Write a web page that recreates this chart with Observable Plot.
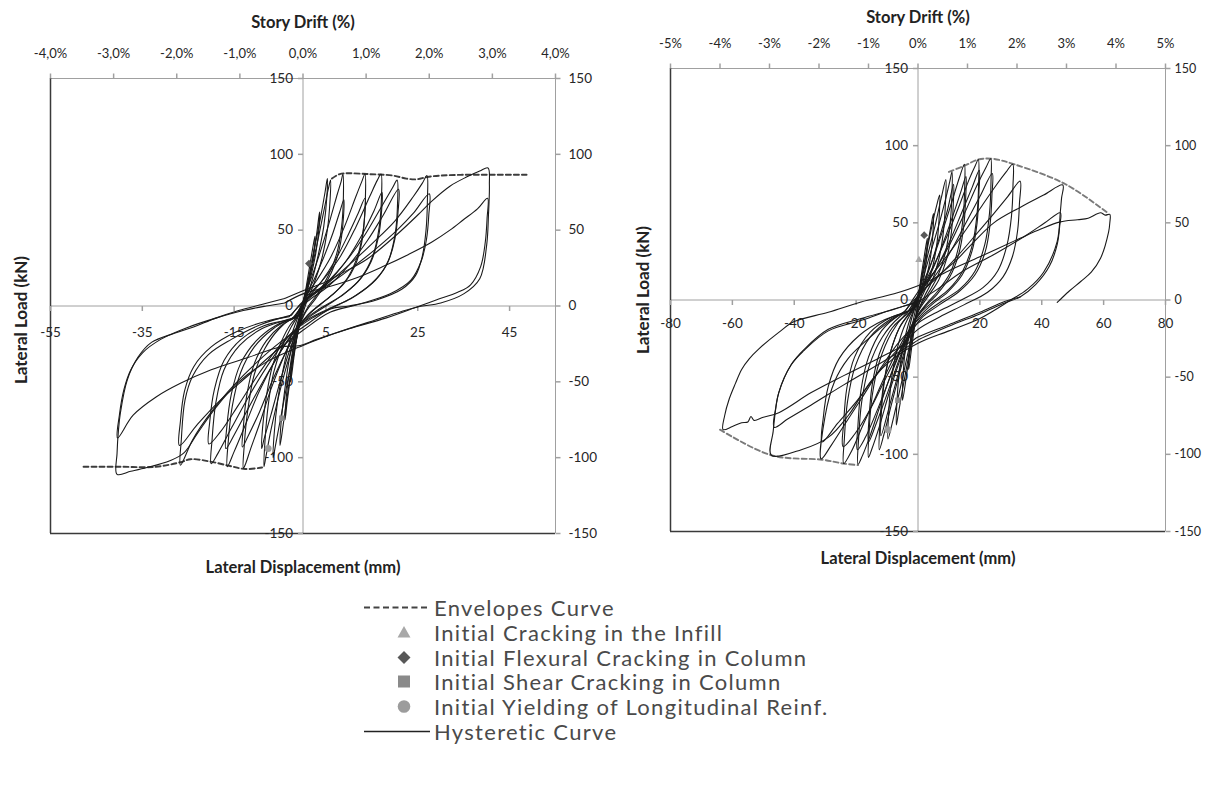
<!DOCTYPE html>
<html><head><meta charset="utf-8">
<script src="https://cdn.jsdelivr.net/npm/d3@7"></script>
<script src="https://cdn.jsdelivr.net/npm/@observablehq/plot@0.6"></script>
<style>
html,body{margin:0;padding:0;background:#fff;}
#wrap{position:relative;width:1205px;height:789px;overflow:hidden;background:#fff;font-family:Lato,"Open Sans",sans-serif;}
.panel{position:absolute;top:0;}
.lrow{position:absolute;left:362px;height:25px;display:flex;align-items:center;font-size:22px;letter-spacing:1.3px;color:#4a4a4a;white-space:nowrap;}
.lrow svg{flex:none;}
</style></head><body>
<div id="wrap"><div id="left" class="panel" style="left:0px"></div><div id="right" class="panel" style="left:605px"></div><div id="legend"></div></div>
<script>
const FONT = "Lato, 'Open Sans', sans-serif";
const yTicks = [-150,-100,-50,0,50,100,150];

// ---------- LEFT SPECIMEN ----------
const leftDispTicks = [-55,-35,-15,5,25,45];
const leftDriftTicks = [-4,-3,-2,-1,0,1,2,3,4];
const leftDriftLabels = ["-4,0%","-3,0%","-2,0%","-1,0%","0,0%","1,0%","2,0%","3,0%","4,0%"];
const leftMmPerPct = 13.75;
const leftEnvPos = [[6.3,84],[8,87],[10,87.5],[14,87],[19.6,86],[22.5,84],[24.7,83.5],[27,85],[30,86],[35,86.5],[41,86.5],[48.7,86.5]];
const leftEnvNeg = [[-47.8,-106],[-40,-106],[-32,-106],[-26.7,-103],[-24.5,-101],[-20.3,-102.5],[-15.9,-105.5],[-12.6,-107.5],[-8.9,-106.5]];
const leftCycles = [
 [[0,0],[1,18],[2,36],[2.6,46],[2.5,38],[1.8,24],[0.8,9],[0,0],[-0.8,-12],[-1.8,-30],[-2.7,-50],[-2.6,-40],[-1.9,-25],[-0.9,-10],[0,0]],
 [[0,0],[1,14],[2,30],[3,48],[3.6,62],[3.5,52],[2.8,35],[1.6,18],[0.5,5],[-0.5,-8],[-1.5,-22],[-2.5,-42],[-3.4,-62],[-3.9,-75],[-3.7,-62],[-3,-44],[-2,-25],[-1,-10],[0,0]],
 [[0,2],[1.2,18],[2.5,38],[3.8,58],[4.8,75],[5.3,84],[5.2,72],[4.5,52],[3.2,32],[1.8,15],[0.5,3],[-0.8,-12],[-2,-32],[-3.2,-55],[-4.3,-78],[-5,-92],[-4.8,-78],[-4,-56],[-3,-35],[-1.8,-18],[-0.5,-4],[0,2]],
 [[0,3],[1.5,20],[3,40],[4.5,62],[5.5,77],[6,83],[5.9,70],[5.3,50],[4,30],[2.3,14],[0.8,3],[-0.5,-10],[-2,-30],[-3.5,-52],[-5,-76],[-6,-92],[-6.5,-100],[-6.3,-85],[-5.5,-62],[-4.2,-40],[-2.8,-22],[-1.2,-8],[0,3]],
 [[-0.5,-4],[0.5,8],[2,20],[4,38],[6,58],[7.5,74],[8.3,82],[8.7,87],[8.8,72],[8.4,52],[7.3,34],[5.5,20],[3.2,8],[1.2,0],[-0.5,-10],[-2,-24],[-3.8,-42],[-5.5,-62],[-7,-82],[-8,-98],[-8.5,-106],[-8.3,-90],[-7.6,-66],[-6.4,-44],[-4.6,-27],[-2.6,-14],[-0.5,-4]],
 [[-0.8,-6],[0.5,6],[2.5,18],[4.5,32],[6.5,48],[8,62],[8.9,70],[8.8,58],[8.2,42],[7,28],[5,15],[2.8,5],[0.8,-3],[-1,-14],[-3,-30],[-5,-50],[-7,-72],[-8.5,-88],[-9,-94],[-8.8,-80],[-8,-60],[-6.7,-40],[-4.8,-24],[-2.7,-12],[-0.8,-6]],
 [[-1,-6],[0.5,6],[3,17],[6,32],[9,52],[11.5,72],[12.8,82],[13.5,87],[13.6,72],[13.2,52],[12,34],[9.8,19],[7,9],[3.8,1],[1,-6],[-1.5,-16],[-4,-32],[-7,-55],[-9.5,-78],[-11.5,-95],[-12.5,-104],[-13,-107],[-12.8,-92],[-12,-68],[-10.6,-45],[-8.3,-28],[-5.2,-15],[-2.3,-8],[-1,-6]],
 [[-1.2,-7],[1,5],[4,16],[7,30],[10,48],[12,61],[13.5,71],[13.4,58],[12.8,42],[11.4,27],[9,15],[5.8,6],[2.5,-2],[0,-10],[-3,-26],[-6.5,-48],[-9.5,-70],[-12,-86],[-13.2,-93],[-13,-80],[-12.2,-58],[-10.6,-38],[-8,-23],[-4.8,-13],[-1.2,-7]],
 [[-1.5,-7],[0.5,5],[4,16],[8,32],[11.5,52],[14.5,72],[16.2,83],[17,87],[17.1,72],[16.6,52],[15.2,33],[12.5,18],[9,8],[5,0],[1.5,-7],[-2,-17],[-5.5,-33],[-9.5,-56],[-12.5,-78],[-15,-96],[-16.5,-106],[-16.3,-90],[-15.4,-66],[-13.6,-44],[-10.6,-27],[-6.5,-15],[-3,-9],[-1.5,-7]],
 [[-1.8,-8],[1,4],[5,14],[9,28],[12.5,45],[15.5,63],[17.2,75],[17.1,62],[16.4,45],[14.8,29],[12,16],[8,6],[3.5,-2],[0,-10],[-4,-26],[-8,-46],[-12,-68],[-15,-85],[-16.8,-94],[-16.6,-80],[-15.6,-58],[-13.6,-38],[-10.2,-23],[-6,-13],[-1.8,-8]],
 [[-2,-8],[1,5],[5,15],[9.5,30],[13.5,47],[17,65],[19.5,78],[20.5,83],[20.6,68],[20.1,48],[18.6,30],[15.8,17],[11.5,7],[6.5,-1],[2,-8],[-2.5,-18],[-7,-36],[-11.5,-58],[-15.5,-80],[-18.5,-97],[-20,-104],[-19.8,-88],[-19,-64],[-17.2,-42],[-13.8,-26],[-9,-15],[-4.5,-10],[-2,-8]],
 [[-2.5,-9],[1,3],[5.5,13],[10,27],[14,43],[17.5,60],[20.8,77],[20.7,62],[20,44],[18.2,27],[15,15],[10.5,5],[5.5,-2],[0.5,-10],[-4.5,-24],[-9.5,-44],[-14,-65],[-18,-83],[-20.5,-91],[-20.3,-76],[-19.3,-55],[-17.2,-36],[-13.5,-22],[-8.5,-13],[-2.5,-9]],
 [[-2.5,-6],[0,3],[5,14],[10,27],[15,41],[20,56],[24,72],[26,81],[27,86],[27.1,70],[26.8,50],[26,33],[24.5,20],[21.5,11],[16,4],[10,0],[6,-2],[0,-14],[-5,-24],[-10,-37],[-15,-52],[-20,-70],[-24,-88],[-26.7,-105],[-26.5,-88],[-25.7,-62],[-24,-46],[-20.6,-32],[-15.6,-22],[-9,-12],[-2.5,-6]],
 [[-3,-7],[1,5],[6,15],[11,26],[16,38],[20.5,50],[24,61],[27.5,74],[27.4,60],[26.9,44],[25.8,30],[23.5,17],[19,8],[12,1],[6,-4],[0,-16],[-6,-30],[-12,-46],[-18,-62],[-23,-78],[-26.9,-92],[-26.7,-76],[-25.8,-56],[-23.8,-40],[-20,-27],[-14.5,-17],[-8,-10],[-3,-7]],
 [[-4,5],[0,10],[5,16],[8.7,22],[14,31],[20.4,47],[25,60],[28,69],[32,79],[35.6,85],[38.5,89],[40.3,91],[40.6,80],[40.4,60],[40,40],[38.5,18],[35,8],[30,2],[24.5,-1],[15,-10],[7,-18],[0,-26],[-8,-37],[-14,-50],[-19,-67],[-23,-84],[-26,-97],[-29,-102],[-34,-106.5],[-37.5,-109],[-40.5,-111],[-40.5,-97],[-40.2,-82],[-39.8,-71],[-38.3,-49],[-36,-34],[-33,-24],[-28,-18],[-24,-14],[-19,-8],[-14,-3],[-9,1],[-4,5]],
 [[-4,2],[0,8],[6,13],[12,19],[17.4,26],[23,34],[28,42],[32,50],[35,57],[38,64],[40.2,71],[40.1,58],[39.7,42],[38.7,26],[36.5,14],[33.7,9],[29,4],[24.5,-1],[18,-8],[10,-15],[3,-22],[-0.6,-26],[-5,-27],[-12,-34],[-20,-42],[-26.7,-51],[-32,-60],[-37,-72],[-40.4,-87],[-40,-72],[-39,-55],[-37.5,-42],[-35,-31],[-31,-22],[-25,-14],[-19,-8],[-13,-3],[-8,0],[-4,2]]
];
const leftMarkers = [["diamond",1.3,28],["square",-4.6,-74],["circle",-7.6,-94]];

// ---------- RIGHT SPECIMEN ----------
const rightDispTicks = [-80,-60,-40,-20,0,20,40,60,80];
const rightDispLabels = [-80,-60,-40,-20,20,40,60,80];
const rightDriftTicks = [-5,-4,-3,-2,-1,0,1,2,3,4,5];
const rightDriftLabels = ["-5%","-4%","-3%","-2%","-1%","0%","1%","2%","3%","4%","5%"];
const rightMmPerPct = 16;
const rightEnvPos = [[10,83],[15,87],[19.5,91],[24,91.5],[31,88],[47.7,75],[61.6,56]];
const rightEnvNeg = [[-64,-84],[-47.4,-100.6],[-31,-103.5],[-24,-106],[-19.4,-107]];
const rightCycles = [
 [[0,0],[1,15],[2,28],[3,40],[2.9,32],[2.2,18],[1,6],[0,-2],[-1,-16],[-2,-30],[-3,-45],[-2.9,-35],[-2.1,-20],[-1,-8],[0,0]],
 [[0,1],[1.5,18],[3,35],[4.2,48],[5,56],[4.9,46],[4.2,30],[2.8,15],[1.2,4],[-0.5,-8],[-2,-26],[-3.5,-46],[-5,-65],[-4.9,-52],[-4.2,-34],[-2.8,-18],[-1.2,-6],[0,1]],
 [[-0.5,-3],[0.8,10],[2.5,28],[4.5,48],[6,61],[7,68],[6.9,56],[6.2,38],[4.8,22],[2.8,9],[0.8,0],[-1,-14],[-3,-36],[-5,-58],[-6.3,-73],[-7,-81],[-6.8,-66],[-6,-46],[-4.5,-27],[-2.5,-12],[-0.5,-3]],
 [[-0.8,-4],[0.8,10],[3,28],[5.5,48],[7.5,66],[9,78],[8.9,64],[8.2,44],[6.8,27],[4.5,12],[2,2],[-0.5,-10],[-3,-32],[-5.5,-55],[-8,-77],[-9.7,-90],[-9.5,-74],[-8.6,-52],[-6.8,-32],[-4,-15],[-0.8,-4]],
 [[-1,-4],[1,10],[3.5,27],[6.5,47],[9,66],[10.3,77],[11,83],[11,70],[10.4,50],[9,32],[6.5,16],[3.5,5],[0.5,-5],[-2.5,-22],[-5.5,-44],[-8.5,-67],[-11,-87],[-12.5,-97],[-12.3,-80],[-11.3,-57],[-9.2,-36],[-6,-18],[-2.5,-8],[-1,-4]],
 [[-1.5,-6],[1,6],[4,22],[7,41],[9.5,58],[11.5,75],[11.4,62],[10.8,44],[9.3,27],[6.7,13],[3.5,3],[0.2,-7],[-3,-24],[-6,-45],[-9,-67],[-12,-88],[-11.8,-72],[-10.8,-52],[-8.8,-33],[-5.5,-16],[-1.5,-6]],
 [[-1.5,-5],[1,8],[4.5,25],[8,45],[11,64],[13.5,80],[15,88],[15.1,74],[14.6,54],[13.2,35],[10.5,18],[6.5,6],[2.5,-3],[-1.5,-14],[-5,-34],[-9,-58],[-12.5,-82],[-15,-97],[-16,-102],[-15.8,-85],[-14.8,-62],[-12.5,-40],[-8.5,-21],[-4,-9],[-1.5,-5]],
 [[-2,-7],[1,5],[5,21],[8.5,39],[11.5,56],[14,71],[15.5,80],[15.4,66],[14.8,48],[13.2,30],[10.3,15],[6.3,4],[2,-5],[-2,-17],[-6,-38],[-10,-61],[-13.5,-80],[-16,-92],[-15.8,-76],[-14.8,-55],[-12.5,-35],[-8.3,-18],[-2,-7]],
 [[-2,-6],[1,7],[5,22],[9.5,42],[13.5,62],[16.5,78],[18.5,87],[19.5,91],[19.6,76],[19.1,56],[17.6,36],[14.5,19],[10,7],[5,-1],[0.5,-9],[-3.5,-22],[-8,-44],[-12,-67],[-15.5,-88],[-18,-101],[-19.4,-106.5],[-19.2,-90],[-18.2,-66],[-15.8,-43],[-11.5,-24],[-6,-11],[-2,-6]],
 [[-2.5,-7],[1,5],[5.5,19],[10,37],[14,56],[17.5,73],[19.8,84],[19.7,70],[19.1,50],[17.5,32],[14.2,16],[9.5,5],[4.5,-3],[0,-12],[-4.5,-28],[-9,-50],[-13.5,-73],[-17,-89],[-19.6,-97],[-19.4,-81],[-18.4,-58],[-16,-37],[-11.8,-20],[-6.2,-10],[-2.5,-7]],
 [[-3,-7],[1,6],[5.5,19],[10.5,37],[15,56],[19,74],[22,86],[23.5,91.5],[23.6,77],[23.1,56],[21.6,36],[18.5,19],[13.5,7],[7.5,-1],[2,-9],[-3,-20],[-8.5,-40],[-13.5,-62],[-18,-82],[-21.5,-98],[-24,-106],[-23.8,-90],[-22.8,-66],[-20.3,-43],[-15.5,-24],[-8.5,-12],[-3,-7]],
 [[-3.5,-8],[1,4],[6,17],[11,33],[15.5,50],[20,67],[24,82],[23.9,68],[23.3,49],[21.7,31],[18.3,16],[13,5],[7,-3],[1,-12],[-5,-30],[-10.5,-51],[-15.5,-71],[-20.5,-87],[-24.2,-95],[-24,-79],[-23,-57],[-20.5,-37],[-15.5,-21],[-8.5,-11],[-3.5,-8]],
 [[-4,-7],[1,8],[6,20],[11,33],[16,47],[21,62],[25.5,75],[28.5,83],[30.6,88],[30.7,74],[30.2,54],[28.7,35],[25.8,19],[21,8],[14,0],[7,-7],[0,-15],[-6,-27],[-12,-44],[-18,-63],[-23.5,-80],[-28,-94],[-31.3,-103],[-30,-75],[-27,-53],[-22.6,-38],[-16,-25],[-10,-15],[-4,-7]],
 [[-5,-9],[1,5],[7,16],[13,29],[19,43],[24.5,56],[29,67],[33,77],[32.8,63],[32.2,45],[30.5,28],[27.5,15],[22.5,5],[15,-3],[7,-11],[0,-19],[-7,-33],[-14,-50],[-20,-66],[-26,-80],[-31,-92],[-30.6,-76],[-29,-56],[-25.5,-38],[-19,-23],[-11,-13],[-5,-9]],
 [[-2,-3],[5,13],[12,25],[18,37.5],[24.5,50],[33,60],[40.6,68],[46.8,74.5],[46.4,66],[46,57],[45,38],[40.6,18],[35.4,7],[30,0],[20,-12],[10,-20],[0,-28],[-8,-38],[-15,-52],[-22.6,-75],[-29,-89],[-37.7,-97],[-47.4,-100.6],[-46.8,-85],[-45,-60],[-41,-42],[-36.8,-32],[-29,-19],[-18.4,-12],[-7.7,-6],[1,0]],
 [[1,0],[7,8],[14,18],[25,30],[35,42],[41,50],[46,56.5],[45.8,48],[45,36],[42.5,22],[38,10],[33,2],[28,-2],[20,-9],[10,-17],[0,-26],[-2.3,-29],[-13,-42],[-24,-55],[-34.5,-68],[-42,-77],[-46.5,-82.5],[-46,-70],[-45,-60],[-41,-42],[-37,-33],[-29,-20],[-18,-13],[-8,-6],[1,-1]],
 [[33,2],[28,-1],[20,-8],[10,-16],[0,-24],[-2.3,-27],[-13,-38],[-24,-49],[-34.5,-60],[-45,-73],[-50,-76],[-53,-78],[-54,-75.5],[-55,-79],[-57,-79.5],[-60,-82],[-63,-84],[-62.5,-75],[-61,-64],[-59,-54],[-57,-45],[-54.5,-38],[-51.6,-32],[-45,-21],[-40,-14],[-29,-8],[-18.4,-1.3],[-7.7,4],[1,10],[10,19],[20,28],[33,40],[39.7,46],[46,50.6],[51.6,52],[55,53],[59,56.5],[60.5,55],[62,55.5],[62,50],[61.6,44],[59,27],[56,18],[52.6,12],[49,6],[45.8,0],[45,-1.5]]
];
const rightMarkers = [["triangle",0.3,26],["diamond",2,42],["square",-6.5,-65],["circle",-9.7,-84]];

// ---------- LEGEND ----------
const legendLabels = ["Envelopes Curve","Initial Cracking in the Infill","Initial Flexural Cracking in Column","Initial Shear Cracking in Column","Initial Yielding of Longitudinal Reinf.","Hysteretic Curve"];
const legendKinds = ["dash","triangle","diamond","square","circle","solid"];

const symFor = {triangle:"triangle2", diamond:"diamond2", square:"square2", circle:"circle"};
const colFor = {triangle:"#a8a8a8", diamond:"#585858", square:"#8a8a8a", circle:"#9c9c9c"};

const tickUp = {draw(c){c.moveTo(0,0);c.lineTo(0,-5);}};
const tickDown = {draw(c){c.moveTo(0,0);c.lineTo(0,5);}};
const tickLeft = {draw(c){c.moveTo(0,0);c.lineTo(-5,0);}};
const tickRight = {draw(c){c.moveTo(0,0);c.lineTo(5,0);}};

function panel(o){
  const rows = o.cycles.flatMap((c,i)=>c.map(([d,f])=>({cycle:i,d,f})));
  const env = [...o.envPos.map(([d,f])=>({s:"p",d,f})), ...o.envNeg.map(([d,f])=>({s:"n",d,f}))];
  const drift = o.driftTicks.map((p,i)=>({x:p*o.mmPerPct, label:o.driftLabels[i]}));
  const marks = o.markers.map(([t,d,f])=>({t,d,f}));
  const [x0,x1] = o.xDomain;
  const txt = {fill:"#262626", fontSize:13.5};
  const grey = "#a0a0a0";
  return Plot.plot({
    width:o.width, height:o.height,
    marginLeft:o.ml, marginRight:o.mr, marginTop:o.mt, marginBottom:o.mb,
    x:{domain:o.xDomain, axis:null}, y:{domain:[-150,150], axis:null},
    style:{fontFamily:FONT, background:"white", overflow:"visible"},
    marks:[
      Plot.ruleY([150],{stroke:grey}),
      Plot.ruleX([x1],{stroke:grey}),
      Plot.ruleX([0],{stroke:grey}),
      Plot.ruleY([0],{stroke:grey}),
      Plot.ruleX([x0],{stroke:"#3a3a3a", strokeWidth:1.5}),
      Plot.ruleY([-150],{stroke:"#3a3a3a", strokeWidth:1.5}),
      Plot.dot(drift,{x:"x", y:150, symbol:tickUp, stroke:grey, fill:"none"}),
      Plot.text(drift,{x:"x", y:150, text:"label", dy:-25, ...txt, fontSize:13}),
      Plot.dot(yTicks,{x:x1, y:d=>d, symbol:tickRight, stroke:grey, fill:"none"}),
      Plot.text(yTicks,{x:x1, y:d=>d, text:d=>String(d), dx:o.rightDx, textAnchor:"start", ...txt, fontSize:o.rightFont}),
      Plot.dot(yTicks,{x:0, y:d=>d, symbol:tickLeft, stroke:grey, fill:"none"}),
      Plot.text(yTicks,{x:0, y:d=>d, text:d=>String(d), dx:-10, textAnchor:"end", ...txt}),
      Plot.dot(o.dispTicks,{x:d=>d, y:0, symbol:tickDown, stroke:grey, fill:"none"}),
      Plot.text(o.dispLabels,{x:d=>d, y:0, text:d=>String(d), dy:o.dispDy, ...txt}),
      Plot.line(env,{x:"d", y:"f", z:"s", stroke:o.envColor, strokeWidth:1.9, strokeDasharray:"5,3", curve:"catmull-rom"}),
      Plot.line(rows,{x:"d", y:"f", z:"cycle", stroke:"#1a1a1a", strokeWidth:1.1, curve:"catmull-rom"}),
      ...Object.keys(symFor).map(k=>Plot.dot(marks.filter(m=>m.t===k),{x:"d", y:"f", symbol:symFor[k], fill:colFor[k], r:3.5})),
      Plot.text(["Story Drift (%)"],{frameAnchor:"top", lineAnchor:"middle", text:d=>d, dy:o.titleDy, fontWeight:"bold", fontSize:16.5, fill:"#222"}),
      Plot.text(["Lateral Displacement (mm)"],{frameAnchor:"bottom", lineAnchor:"middle", text:d=>d, dy:o.xTitleDy, fontWeight:"bold", fontSize:16.5, fill:"#222"}),
      Plot.text(["Lateral Load (kN)"],{frameAnchor:"left", lineAnchor:"middle", textAnchor:"middle", rotate:-90, text:d=>d, dx:o.yTitleDx, dy:o.yTitleDy, fontWeight:"bold", fontSize:17, fill:"#222"})
    ]
  });
}

document.getElementById("left").appendChild(panel({
  width:600, height:585, ml:50, mr:45, mt:78, mb:52, xDomain:[-55,55],
  cycles:leftCycles, envPos:leftEnvPos, envNeg:leftEnvNeg, envColor:"#3c3c3c",
  driftTicks:leftDriftTicks, driftLabels:leftDriftLabels, mmPerPct:leftMmPerPct,
  dispTicks:leftDispTicks, dispLabels:leftDispTicks, dispDy:27, markers:leftMarkers,
  titleDy:-56, xTitleDy:34, yTitleDx:-29, yTitleDy:14, rightDx:13, rightFont:13.5
}));
document.getElementById("right").appendChild(panel({
  width:600, height:585, ml:65, mr:40, mt:68, mb:54, xDomain:[-80,80],
  cycles:rightCycles, envPos:rightEnvPos, envNeg:rightEnvNeg, envColor:"#7a7a7a",
  driftTicks:rightDriftTicks, driftLabels:rightDriftLabels, mmPerPct:rightMmPerPct,
  dispTicks:rightDispTicks, dispLabels:rightDispLabels, dispDy:24, markers:rightMarkers,
  titleDy:-51, xTitleDy:27, yTitleDx:-27, yTitleDy:-10, rightDx:9, rightFont:12.5
}));

// legend
const lg = document.getElementById("legend");
legendLabels.forEach((lab,i)=>{
  const row = document.createElement("div");
  row.className = "lrow";
  row.style.top = (595 + i*24.8) + "px";
  const k = legendKinds[i];
  let svg = "";
  if (k==="dash") svg = `<line x1="2" y1="12.5" x2="66" y2="12.5" stroke="#444" stroke-width="1.8" stroke-dasharray="6,3.5"/>`;
  else if (k==="solid") svg = `<line x1="2" y1="12.5" x2="68" y2="12.5" stroke="#222" stroke-width="1.5"/>`;
  else if (k==="triangle") svg = `<path d="M42,6 L48.5,17.5 L35.5,17.5 Z" fill="${colFor.triangle}"/>`;
  else if (k==="diamond") svg = `<path d="M42,6 L48.5,12.5 L42,19 L35.5,12.5 Z" fill="${colFor.diamond}"/>`;
  else if (k==="square") svg = `<rect x="36" y="6.5" width="12" height="12" fill="${colFor.square}"/>`;
  else if (k==="circle") svg = `<circle cx="42" cy="12.5" r="6.3" fill="${colFor.circle}"/>`;
  row.innerHTML = `<svg width="72" height="25">${svg}</svg><span>${lab}</span>`;
  lg.appendChild(row);
});
</script>
</body></html>
